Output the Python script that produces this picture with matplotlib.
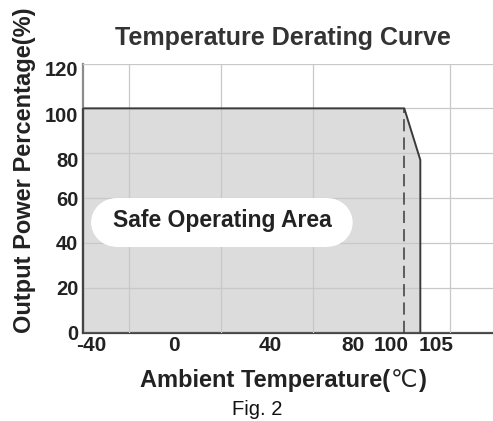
import numpy as np
import matplotlib
matplotlib.use("Agg")
import matplotlib.pyplot as plt
from matplotlib.patches import Ellipse, Rectangle
from matplotlib.transforms import ScaledTranslation

plt.rcParams['font.family'] = ['Liberation Sans', 'DejaVu Sans']

# derating curve (ambient temperature in C, output power in %)
temp = [-40, 100, 107, 107]
power = [100, 100, 77, 0]

x_ticks = [-40, 0, 40, 80, 100, 105]
y_ticks = [0, 20, 40, 60, 80, 100, 120]
x_grid = [-40, -20, 0, 20, 40, 60, 80, 100, 120]

# hand-placed label shifts of the original drawing (pixels)
x_shift = [7.6, -1, 3.4, -5.7, -13, 20.5]
y_shift = [0, 0, 0, 0, 6, 6, 5]

W, H = 493, 421
fig = plt.figure(figsize=(W / 100, H / 100), dpi=100)
ax = fig.add_axes([83.3 / W, 1 - 332.7 / H, 1 - 83.3 / W, (332.7 - 63.5) / H])

ax.fill_between(temp, power, 0, facecolor='#dcdcdc', edgecolor='none', zorder=1)
ax.plot(temp, power, color='#3a3a3a', lw=1.4, zorder=3)
ax.vlines(temp[1], 0, power[1], colors='#3a3a3a', lw=1.1,
          linestyles=(0, (8, 4)), zorder=3)

ax.set_xlim(-40, 138.7)
ax.set_ylim(0, 120)

ax.set_xticks(x_ticks)
ax.set_xticklabels([str(v) for v in x_ticks])
ax.set_xticks(x_grid, minor=True)
ax.set_yticks(y_ticks)
ax.set_yticklabels([str(v) for v in y_ticks])

ax.set_axisbelow(False)
ax.grid(False)
ax.grid(True, which='minor', axis='x', color='#c8c8c8', lw=0.9, zorder=2)
ax.grid(True, which='major', axis='y', color='#c8c8c8', lw=0.9, zorder=2)

ax.tick_params(which='both', length=0)
ax.tick_params(axis='x', pad=2.5, labelsize=15, colors='#222222')
ax.tick_params(axis='y', pad=3.5, labelsize=14.5, colors='#222222')
for lab in ax.get_xticklabels() + ax.get_yticklabels():
    lab.set_fontweight('bold')

for lab, dx in zip(ax.get_xticklabels(), x_shift):
    lab.set_transform(lab.get_transform() + ScaledTranslation(dx / 100, 0, fig.dpi_scale_trans))
for lab, dy in zip(ax.get_yticklabels(), y_shift):
    lab.set_transform(lab.get_transform() + ScaledTranslation(0, -dy / 100, fig.dpi_scale_trans))

for s in ['top', 'right']:
    ax.spines[s].set_visible(False)
ax.spines['left'].set_color('#8c8c8c')
ax.spines['left'].set_linewidth(1.6)
ax.spines['bottom'].set_color('#444444')
ax.spines['bottom'].set_linewidth(1.6)

# dark left edge along the filled area
ax.vlines(temp[0], 0, power[0], colors='#444444', lw=1.6, zorder=3, clip_on=False)

# white pill with label: rectangle + two half-round ends
x0, x1, y0, y1, r = -36.6, 77.5, 38.3, 60.0, 11
for px in (x0 + r, x1 - r):
    ax.add_patch(Ellipse((px, (y0 + y1) / 2), 2 * r, y1 - y0,
                         facecolor='white', edgecolor='none', zorder=4))
ax.add_patch(Rectangle((x0 + r, y0), x1 - x0 - 2 * r, y1 - y0,
                       facecolor='white', edgecolor='none', zorder=4))
ax.text(20.5, 47.2, 'Safe Operating Area', ha='center', va='baseline',
        fontsize=16.5, fontweight='bold', color='#222222', zorder=5)

fig.text(283 / W, 1 - 45 / H, 'Temperature Derating Curve', ha='center',
         va='baseline', fontsize=18, fontweight='bold', color='#333333')
fig.text(25 / W, 1 - 170 / H, 'Output Power Percentage(%)', ha='center',
         va='center', rotation=90, fontsize=17, fontweight='bold', color='#222222')

# x label: thin degree sign between bold parts
renderer = fig.canvas.get_renderer()
parts = [('Ambient Temperature(', 'bold', ['Liberation Sans']),
         ('℃', 'normal', ['DejaVu Sans']),
         (')', 'bold', ['Liberation Sans'])]
xpos = 140
for s, wt, fam in parts:
    t = fig.text(xpos / W, 1 - 387 / H, s, ha='left', va='baseline',
                 fontsize=17, fontweight=wt, family=fam, color='#222222')
    xpos += t.get_window_extent(renderer).width + 1

fig.text(257.5 / W, 1 - 415 / H, 'Fig. 2', ha='center', va='baseline',
         fontsize=14.5, color='#111111')

fig.savefig('out.png', dpi=100)
